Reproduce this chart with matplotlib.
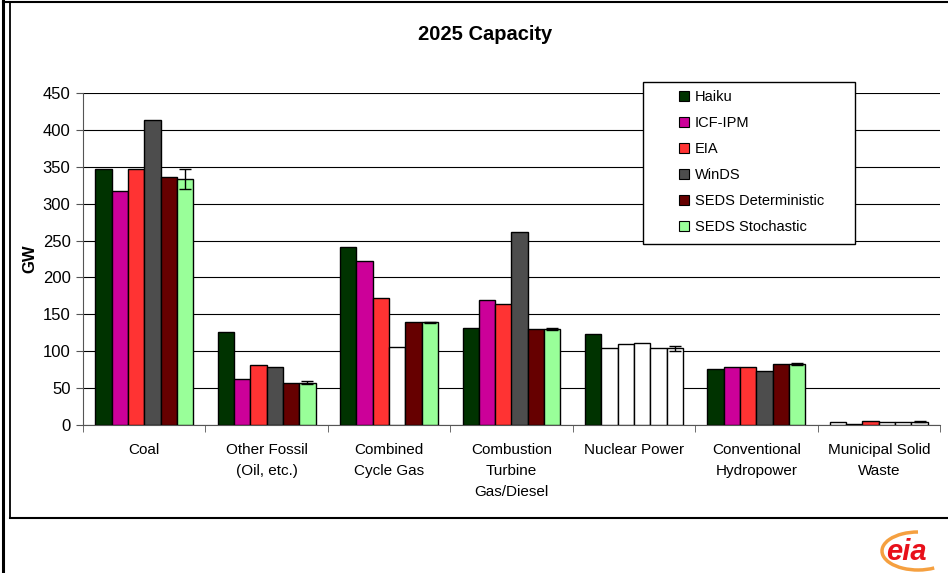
import numpy as np
import matplotlib
matplotlib.use("Agg")
import matplotlib.pyplot as plt
from matplotlib.patches import Rectangle, Arc
from matplotlib.lines import Line2D

plt.rcParams['font.family'] = ['Liberation Sans', 'DejaVu Sans']

categories = ["Coal", "Other Fossil\n(Oil, etc.)", "Combined\nCycle Gas",
              "Combustion\nTurbine\nGas/Diesel", "Nuclear Power",
              "Conventional\nHydropower", "Municipal Solid\nWaste"]
series = ["Haiku", "ICF-IPM", "EIA", "WinDS", "SEDS Deterministic", "SEDS Stochastic"]

haiku = [347, 126, 241, 132, 123, 76, 4.5]
icf_ipm = [317, 62, 222, 169, 104, 78, 2]
eia = [347, 81, 172, 164, 110, 78, 6]
winds = [414, 78, 106, 262, 111, 73, 4]
seds_det = [336, 57, 140, 130, 104, 83, 4]
seds_sto = [334, 57, 139, 130, 104, 83, 4.5]
seds_sto_err = [13.5, 2, 1, 1, 3.5, 1, 0.5]

colors = ["#003300", "#CC0099", "#FF3333", "#4D4D4D", "#660000", "#99FF99"]
# bars that show up without fill in the reference (series index, category index)
unfilled = {(3, 2), (1, 4), (2, 4), (3, 4), (4, 4), (5, 4), (0, 6), (3, 6), (4, 6), (5, 6)}

values = [haiku, icf_ipm, eia, winds, seds_det, seds_sto]

W, H = 948, 573
fig = plt.figure(figsize=(W / 100, H / 100), dpi=100)
ax = fig.add_axes([83 / W, 1 - 425 / H, (940 - 83) / W, (425 - 93) / H])

x = np.arange(len(categories))
bw = 0.8 / len(series)
for i, (name, vals) in enumerate(zip(series, values)):
    pos = x - 0.4 + bw * (i + 0.5)
    fc = ["white" if (i, j) in unfilled else colors[i] for j in range(len(vals))]
    ax.bar(pos, vals, bw, color=fc, edgecolor="black", linewidth=1.0, zorder=3)
    if name == "SEDS Stochastic":
        ax.errorbar(pos, vals, yerr=seds_sto_err, fmt="none", ecolor="black",
                    elinewidth=1, capsize=4, capthick=1, zorder=4)

ax.set_xlim(-0.5, len(categories) - 0.5)
ax.set_ylim(0, 450)
ax.set_yticks(range(0, 451, 50))
ax.yaxis.grid(True, color="black", linewidth=0.8, zorder=0)
ax.set_axisbelow(True)
ax.set_xticks(x)
ax.set_xticklabels(categories, fontsize=11, linespacing=1.62, va="top")
ax.tick_params(axis="x", which="major", length=0, pad=13)
ax.set_xticks(np.arange(-0.5, len(categories), 1), minor=True)
ax.tick_params(axis="x", which="minor", length=5, direction="out", color="#555555")
ax.tick_params(axis="y", length=5, direction="out", labelsize=12, pad=4, color="#555555")
for s in ["top", "right"]:
    ax.spines[s].set_visible(False)
ax.spines["left"].set_color("#555555")
ax.spines["bottom"].set_color("#555555")
ax.set_ylabel("GW", fontsize=12, fontweight="bold", labelpad=4)

fig.text(485 / W, 1 - 34 / H, "2025 Capacity", fontsize=14.5, fontweight="bold",
         ha="center", va="center")

# legend
handles = [Rectangle((0, 0), 1, 1, facecolor=c, edgecolor="black", linewidth=0.8) for c in colors]
leg = fig.legend(handles, series, loc="upper left",
                 bbox_to_anchor=(672 / W, 1 - 83 / H), frameon=False, fontsize=10.5,
                 handlelength=0.65, handleheight=0.65, handletextpad=0.4,
                 labelspacing=0.82, borderpad=0)
fig.add_artist(Rectangle((643 / W, 1 - 244 / H), (855 - 643) / W, (244 - 82) / H,
                         transform=fig.transFigure, facecolor="white",
                         edgecolor="black", linewidth=1, zorder=1))
leg.set_zorder(5)

# slide frame lines
fig.add_artist(Line2D([3 / W, 3 / W], [0, 1], color="black", linewidth=2.2))
fig.add_artist(Line2D([10 / W, 10 / W], [1 - 518 / H, 1 - 3 / H], color="black", linewidth=1.3))
fig.add_artist(Line2D([3 / W, 1], [1 - 2 / H, 1 - 2 / H], color="black", linewidth=1.5))
fig.add_artist(Line2D([10 / W, 1], [1 - 518 / H, 1 - 518 / H], color="black", linewidth=1.5))

# eia logo corner
fig.text(886 / W, 1 - 552 / H, "eia", fontsize=21, fontweight="bold", style="italic",
         color="#E8101A", ha="left", va="center")
fig.add_artist(Arc((918 / W, 1 - 551 / H), 72 / W, 38 / H, theta1=90, theta2=300,
                   transform=fig.transFigure, color="#F5A040", linewidth=2.5))

fig.savefig("out.png", dpi=100)
